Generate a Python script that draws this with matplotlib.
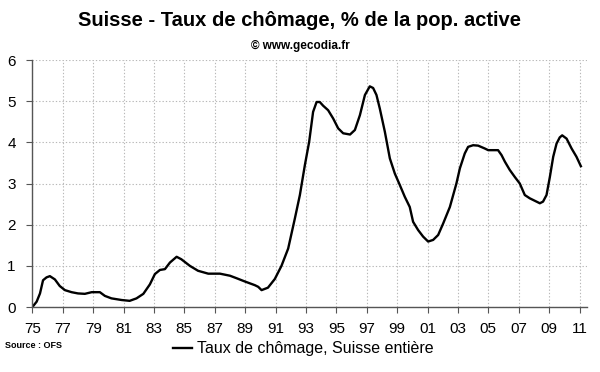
import matplotlib
matplotlib.use("Agg")
import matplotlib.pyplot as plt
import numpy as np

plt.rcParams['font.family'] = ['Liberation Sans', 'DejaVu Sans']

years = [1975.0, 1975.28, 1975.5, 1975.7, 1975.93, 1976.15, 1976.48, 1976.8, 1977.14,
         1977.58, 1978.0, 1978.45, 1978.9, 1979.44, 1979.77, 1980.2, 1980.87, 1981.4,
         1981.85, 1982.3, 1982.73, 1983.06, 1983.39, 1983.72, 1984.05, 1984.49, 1984.8,
         1985.36, 1985.9, 1986.57, 1987.34, 1988.0, 1988.43, 1988.98, 1989.64, 1989.86,
         1990.08, 1990.5, 1990.95, 1991.39, 1991.83, 1992.27, 1992.6, 1992.93, 1993.21,
         1993.47, 1993.7, 1993.91, 1994.13, 1994.46, 1994.79, 1995.12, 1995.45, 1995.9,
         1996.22, 1996.55, 1996.88, 1997.2, 1997.42, 1997.64, 1997.86, 1998.19, 1998.52,
         1998.85, 1999.18, 1999.5, 1999.83, 2000.05, 2000.38, 2000.71, 2001.04, 2001.37,
         2001.7, 2002.03, 2002.47, 2002.9, 2003.13, 2003.45, 2003.67, 2004.0, 2004.33,
         2004.77, 2004.99, 2005.64, 2005.87, 2006.09, 2006.41, 2006.74, 2007.07, 2007.4,
         2007.73, 2008.06, 2008.39, 2008.6, 2008.83, 2009.05, 2009.27, 2009.49, 2009.7,
         2009.86, 2010.15, 2010.48, 2010.8, 2011.09]
rate = [0.0, 0.13, 0.33, 0.65, 0.72, 0.75, 0.67, 0.51, 0.41,
        0.36, 0.33, 0.32, 0.36, 0.36, 0.27, 0.21, 0.17, 0.15,
        0.21, 0.32, 0.55, 0.80, 0.90, 0.92, 1.08, 1.22, 1.16,
        1.00, 0.88, 0.81, 0.81, 0.76, 0.70, 0.62, 0.53, 0.49,
        0.41, 0.47, 0.68, 1.00, 1.42, 2.15, 2.72, 3.45, 4.01,
        4.74, 4.98, 4.98, 4.89, 4.78, 4.58, 4.34, 4.22, 4.19,
        4.30, 4.66, 5.15, 5.36, 5.32, 5.15, 4.82, 4.26, 3.61,
        3.24, 2.96, 2.68, 2.43, 2.07, 1.87, 1.71, 1.59, 1.63,
        1.75, 2.03, 2.43, 3.00, 3.37, 3.73, 3.89, 3.93, 3.92,
        3.85, 3.81, 3.81, 3.69, 3.53, 3.33, 3.16, 3.00, 2.72,
        2.64, 2.58, 2.52, 2.56, 2.72, 3.16, 3.65, 3.97, 4.12,
        4.17, 4.09, 3.85, 3.65, 3.42]

tick_years = list(range(1975, 2012, 2))
tick_labels = ['75', '77', '79', '81', '83', '85', '87', '89', '91', '93',
               '95', '97', '99', '01', '03', '05', '07', '09', '11']
y_ticks = [0, 1, 2, 3, 4, 5, 6]

fig = plt.figure(figsize=(6, 3.72), dpi=100)
ax = fig.add_axes([0.054, 0.1747, 0.924, 0.664])
line, = ax.plot(years, rate, color='black', lw=1.7, solid_joinstyle='round')

ax.set_xlim(1975, 2011.48)
ax.set_ylim(0, 6)
ax.set_xticks(tick_years)
ax.set_xticklabels(tick_labels)
ax.set_yticks(y_ticks)
ax.grid(True, color='#b8b8b8', linestyle=(0, (1.2, 1.8)), lw=0.8)
ax.set_axisbelow(True)
for s in ['top', 'right']:
    ax.spines[s].set_visible(False)
for s in ['left', 'bottom']:
    ax.spines[s].set_color('#555555')
    ax.spines[s].set_linewidth(1.0)
ax.tick_params(axis='x', direction='out', length=4, pad=7, labelsize=11, colors='#555555', labelcolor='black')
ax.tick_params(axis='y', direction='out', length=4, pad=8, labelsize=11, colors='#555555', labelcolor='black')

fig.text(0.5, 0.945, 'Suisse - Taux de chômage, % de la pop. active', ha='center', va='center',
         fontsize=14.5, fontweight='bold')
fig.text(0.5, 0.877, '© www.gecodia.fr', ha='center', va='center', fontsize=8.5, fontweight='bold')
fig.text(0.008, 0.07, 'Source : OFS', ha='left', va='center', fontsize=6.5, fontweight='bold')

leg = fig.legend([line], ['Taux de chômage, Suisse entière'], loc='center', bbox_to_anchor=(0.505, 0.062),
                 frameon=False, fontsize=11.5, handlelength=1.2, handletextpad=0.3,
                 borderpad=0, borderaxespad=0)

fig.savefig('out.png', dpi=100)
